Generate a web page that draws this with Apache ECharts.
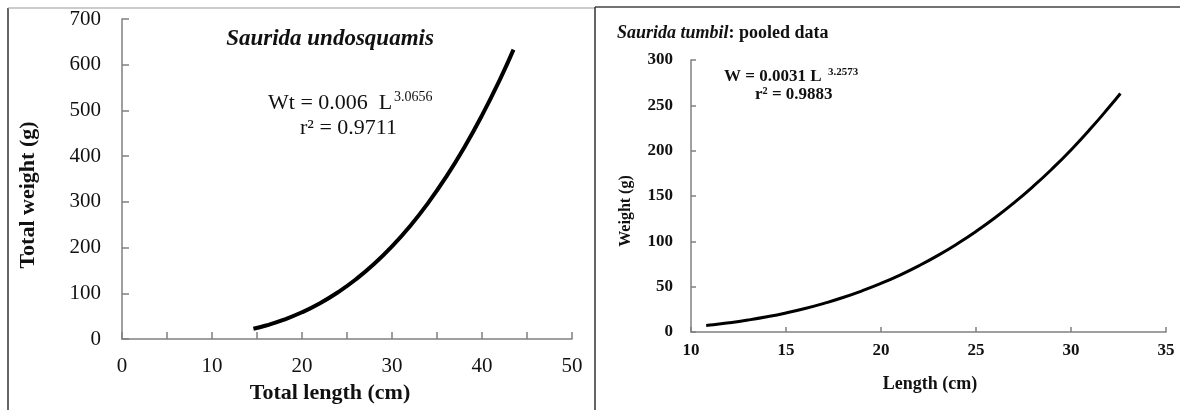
<!DOCTYPE html>
<html>
<head>
<meta charset="utf-8">
<script src="https://cdn.jsdelivr.net/npm/echarts@6/dist/echarts.min.js"></script>
<style>
html,body{margin:0;padding:0;background:#fff;}
#chart{width:1180px;height:410px;}
</style>
</head>
<body>
<div id="chart"></div>
<script>
// Left panel: Saurida undosquamis
var leftLength = [14.6, 16, 18, 20, 22, 24, 26, 28, 30, 32, 34, 36, 38, 40, 42, 43.5];
var leftWeight = [22.3, 29.5, 42.3, 58.4, 78.2, 102.2, 130.6, 163.9, 202.5, 246.8, 297.2, 354.1, 418.0, 489.2, 568.1, 633];
var leftXTicks = [0, 10, 20, 30, 40, 50];
var leftYTicks = [0, 100, 200, 300, 400, 500, 600, 700];

// Right panel: Saurida tumbil pooled data
var rightLength = [10.8, 11, 12, 13, 14, 15, 16, 17, 18, 19, 20, 21, 22, 23, 24, 25, 26, 27, 28, 29, 30, 31, 32, 32.6];
var rightWeight = [7.2, 7.65, 10.15, 13.18, 16.78, 21.0, 25.9, 31.6, 38.0, 45.4, 53.6, 62.8, 73.1, 84.5, 97.1, 110.9, 126.0, 142.5, 160.4, 179.8, 200.8, 223.5, 247.8, 263.1];
var rightXTicks = [10, 15, 20, 25, 30, 35];
var rightYTicks = [0, 50, 100, 150, 200, 250, 300];

function pairs(xs, ys) { return xs.map(function (x, i) { return [x, ys[i]]; }); }

var SERIF = '"Liberation Serif", "Times New Roman", serif';
var axisGray = '#808080';

var chart = echarts.init(document.getElementById('chart'), null, {renderer: 'canvas'});

var option = {
  backgroundColor: '#ffffff',
  animation: false,
  grid: [
    {left: 122, top: 19, right: 608, bottom: 71, containLabel: false},
    {left: 691, top: 60, right: 14, bottom: 78, containLabel: false}
  ],
  xAxis: [
    {
      gridIndex: 0, type: 'value',
      min: leftXTicks[0], max: leftXTicks[leftXTicks.length - 1], interval: 10,
      axisLine: {show: true, onZero: false, lineStyle: {color: axisGray, width: 1.5}},
      axisTick: {show: true, inside: true, length: 7, lineStyle: {color: axisGray, width: 1.5}},
      minorTick: {show: true, splitNumber: 2, length: 7, lineStyle: {color: axisGray, width: 1.5}},
      splitLine: {show: false},
      axisLabel: {margin: 17, fontFamily: SERIF, fontSize: 21, color: '#111'}
    },
    {
      gridIndex: 1, type: 'value',
      min: rightXTicks[0], max: rightXTicks[rightXTicks.length - 1], interval: 5,
      axisLine: {show: true, onZero: false, lineStyle: {color: axisGray, width: 1.5}},
      axisTick: {show: true, inside: true, length: 5, lineStyle: {color: axisGray, width: 1.5}},
      splitLine: {show: false},
      axisLabel: {margin: 10, fontFamily: SERIF, fontSize: 17, fontWeight: 'bold', color: '#111'}
    }
  ],
  yAxis: [
    {
      gridIndex: 0, type: 'value',
      min: leftYTicks[0], max: leftYTicks[leftYTicks.length - 1], interval: 100,
      axisLine: {show: true, onZero: false, lineStyle: {color: axisGray, width: 1.5}},
      axisTick: {show: true, inside: true, length: 7, lineStyle: {color: axisGray, width: 1.5}},
      splitLine: {show: false},
      axisLabel: {margin: 21, fontFamily: SERIF, fontSize: 21, color: '#111'}
    },
    {
      gridIndex: 1, type: 'value',
      min: rightYTicks[0], max: rightYTicks[rightYTicks.length - 1], interval: 50,
      axisLine: {show: true, onZero: false, lineStyle: {color: axisGray, width: 1.5}},
      axisTick: {show: true, inside: true, length: 5, lineStyle: {color: axisGray, width: 1.5}},
      splitLine: {show: false},
      axisLabel: {margin: 18, fontFamily: SERIF, fontSize: 17, fontWeight: 'bold', color: '#111'}
    }
  ],
  series: [
    {
      type: 'line', xAxisIndex: 0, yAxisIndex: 0,
      data: pairs(leftLength, leftWeight),
      smooth: true, showSymbol: false,
      lineStyle: {color: '#000', width: 4}
    },
    {
      type: 'line', xAxisIndex: 1, yAxisIndex: 1,
      data: pairs(rightLength, rightWeight),
      smooth: true, showSymbol: false,
      lineStyle: {color: '#000', width: 3}
    }
  ],
  graphic: [
    // panel frames
    {type: 'line', shape: {x1: 8, y1: 8, x2: 8, y2: 410}, style: {stroke: '#333', lineWidth: 1.5}},
    {type: 'line', shape: {x1: 8, y1: 8, x2: 595, y2: 8}, style: {stroke: '#999', lineWidth: 1.2}},
    {type: 'line', shape: {x1: 595, y1: 7, x2: 1180, y2: 7}, style: {stroke: '#444', lineWidth: 1.5}},
    {type: 'line', shape: {x1: 595, y1: 7, x2: 595, y2: 410}, style: {stroke: '#333', lineWidth: 1.5}},

    // left panel texts
    {type: 'text', x: 330, y: 39, style: {text: 'Saurida undosquamis', font: 'italic bold 23px ' + SERIF, fill: '#111', textAlign: 'center', textVerticalAlign: 'middle'}},
    {type: 'text', x: 268, y: 103, style: {text: 'Wt = 0.006  L', font: '22px ' + SERIF, fill: '#111', textAlign: 'left', textVerticalAlign: 'middle'}},
    {type: 'text', x: 394, y: 97, style: {text: '3.0656', font: '14px ' + SERIF, fill: '#111', textAlign: 'left', textVerticalAlign: 'middle'}},
    {type: 'text', x: 300, y: 128, style: {text: 'r\u00B2 = 0.9711', font: '22px ' + SERIF, fill: '#111', textAlign: 'left', textVerticalAlign: 'middle'}},
    {type: 'text', x: 28, y: 195, rotation: Math.PI / 2, style: {text: 'Total weight (g)', font: 'bold 22px ' + SERIF, fill: '#111', textAlign: 'center', textVerticalAlign: 'middle'}},
    {type: 'text', x: 330, y: 393, style: {text: 'Total length (cm)', font: 'bold 22px ' + SERIF, fill: '#111', textAlign: 'center', textVerticalAlign: 'middle'}},

    // right panel texts
    {type: 'text', x: 617, y: 33, style: {
      text: '{i|Saurida tumbil}{b|: pooled data}',
      textAlign: 'left', textVerticalAlign: 'middle',
      rich: {
        i: {font: 'italic bold 18px ' + SERIF, fill: '#111'},
        b: {font: 'bold 18px ' + SERIF, fill: '#111'}
      }
    }},
    {type: 'text', x: 724, y: 77, style: {text: 'W = 0.0031 L', font: 'bold 17px ' + SERIF, fill: '#111', textAlign: 'left', textVerticalAlign: 'middle'}},
    {type: 'text', x: 828, y: 72, style: {text: '3.2573', font: 'bold 11px ' + SERIF, fill: '#111', textAlign: 'left', textVerticalAlign: 'middle'}},
    {type: 'text', x: 755, y: 95, style: {text: 'r\u00B2 = 0.9883', font: 'bold 17px ' + SERIF, fill: '#111', textAlign: 'left', textVerticalAlign: 'middle'}},
    {type: 'text', x: 626, y: 211, rotation: Math.PI / 2, style: {text: 'Weight (g)', font: 'bold 16px ' + SERIF, fill: '#111', textAlign: 'center', textVerticalAlign: 'middle'}},
    {type: 'text', x: 930, y: 384, style: {text: 'Length (cm)', font: 'bold 18px ' + SERIF, fill: '#111', textAlign: 'center', textVerticalAlign: 'middle'}}
  ]
};

chart.setOption(option);
</script>
</body>
</html>
